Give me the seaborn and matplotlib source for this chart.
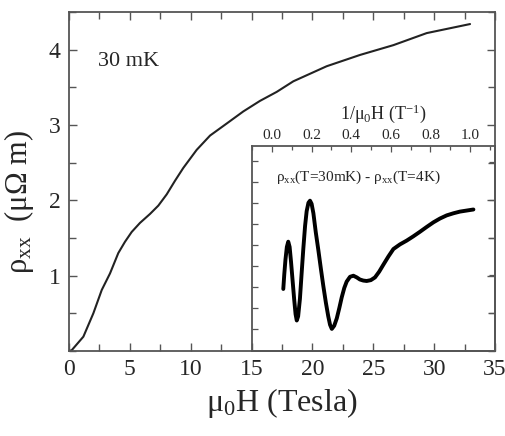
import matplotlib
matplotlib.use("Agg")
import matplotlib.pyplot as plt
from matplotlib.ticker import MultipleLocator, FixedLocator, NullFormatter
import seaborn as sns
import pandas as pd

# Longitudinal resistivity at 30 mK versus field
field_T = [0, 0.22, 1.18, 2.0, 2.69, 3.37, 4.05, 4.6, 5.15, 5.83, 6.66, 7.34,
           8.03, 8.71, 9.39, 10.49, 11.59, 12.96, 14.32, 15.69, 17.07, 18.43,
           21.17, 23.91, 26.65, 29.39, 32.95]
rho_xx = [0, 0.01, 0.19, 0.50, 0.81, 1.03, 1.30, 1.45, 1.58, 1.70, 1.82, 1.93,
          2.08, 2.26, 2.43, 2.67, 2.86, 3.02, 3.18, 3.32, 3.44, 3.58,
          3.78, 3.93, 4.06, 4.22, 4.34]

# Difference rho_xx(30 mK) - rho_xx(4 K) versus inverse field (arb. units)
inv_field = [0.057, 0.062, 0.068, 0.075, 0.082, 0.089, 0.096, 0.104, 0.112,
             0.119, 0.125, 0.132, 0.141, 0.150, 0.158, 0.167, 0.175, 0.184,
             0.192, 0.200, 0.209, 0.221, 0.234, 0.247, 0.259, 0.272, 0.284,
             0.293, 0.302, 0.314, 0.327, 0.340, 0.352, 0.365, 0.377, 0.394,
             0.411, 0.428, 0.444, 0.461, 0.478, 0.499, 0.520, 0.541, 0.562,
             0.588, 0.613, 0.646, 0.680, 0.713, 0.747, 0.781, 0.815, 0.848,
             0.882, 0.916, 0.949, 0.983, 1.017]
delta_rho = [2.90, 3.60, 4.30, 4.90, 5.15, 4.90, 4.20, 3.30, 2.40,
             1.70, 1.40, 1.60, 2.43, 3.70, 4.80, 5.90, 6.60, 7.00,
             7.10, 6.95, 6.50, 5.60, 4.75, 3.85, 3.05, 2.25, 1.60,
             1.20, 1.00, 1.15, 1.50, 2.00, 2.50, 2.95, 3.25, 3.48,
             3.53, 3.45, 3.35, 3.30, 3.28, 3.32, 3.45, 3.72, 4.05,
             4.45, 4.80, 5.02, 5.20, 5.40, 5.62, 5.85, 6.07, 6.25,
             6.40, 6.50, 6.58, 6.63, 6.68]

main_xticks = [0, 5, 10, 15, 20, 25, 30, 35]
main_yticks = [1, 2, 3, 4]
inset_xticks = [0.0, 0.2, 0.4, 0.6, 0.8, 1.0]

sns.set_theme(style="ticks")
plt.rcParams["font.family"] = ["Liberation Serif", "DejaVu Serif"]
plt.rcParams["mathtext.fontset"] = "custom"
plt.rcParams["mathtext.rm"] = "Liberation Serif"
plt.rcParams["mathtext.it"] = "Liberation Serif:italic"

edge = "#555555"

fig = plt.figure(figsize=(5.06, 4.36), dpi=100)
ax = fig.add_axes([69 / 506, 85 / 436, 426 / 506, 339 / 436])

main_df = pd.DataFrame({"H": field_T, "rho": rho_xx})
sns.lineplot(data=main_df, x="H", y="rho", ax=ax, color="#222222",
             linewidth=1.5, sort=False, estimator=None)

ax.set_xlim(0, 35)
ax.set_ylim(0, 4.5)
ax.set_xticks(main_xticks)
ax.set_yticks(main_yticks)
ax.xaxis.set_minor_locator(MultipleLocator(2.5))
ax.yaxis.set_minor_locator(MultipleLocator(0.5))
ax.tick_params(which="both", direction="in", top=True, right=True,
               color=edge, width=1.0, labelsize=17, pad=6)
ax.tick_params(which="major", length=6)
ax.tick_params(which="minor", length=5)
for s in ax.spines.values():
    s.set_color(edge)
    s.set_linewidth(1.3)
ax.set_xlabel(r"μ$_{\mathrm{0}}$H (Tesla)", fontsize=23, labelpad=4)
ax.set_ylabel(r"ρ$_{\mathrm{xx}}$  (μΩ m)", fontsize=22, labelpad=4)
ax.yaxis.set_label_coords(-0.078, 0.44)
ax.text(2.4, 3.84, "30 mK", fontsize=16, va="center", ha="left")

# Inset: oscillatory part against inverse field
ins = fig.add_axes([252 / 506, 85 / 436, 243 / 506, 205 / 436])
ins.set_facecolor("none")
ins_df = pd.DataFrame({"u": inv_field, "d": delta_rho})
sns.lineplot(data=ins_df, x="u", y="d", ax=ins, color="black",
             linewidth=2.8, sort=False, estimator=None)
ins.set_xlim(-0.101, 1.126)
ins.set_ylim(-0.05, 9.7)
ins.xaxis.set_ticks_position("top")
ins.xaxis.set_label_position("top")
ins.set_xticks(inset_xticks)
ins.set_xticklabels([f"{t:.1f}" for t in inset_xticks])
ins.xaxis.set_minor_locator(MultipleLocator(0.1))
ins.yaxis.set_major_locator(FixedLocator(range(1, 10)))
ins.yaxis.set_major_formatter(NullFormatter())
ins.tick_params(which="both", direction="in", color=edge, width=0.9,
                labelsize=11, pad=3, bottom=False, right=False)
ins.tick_params(which="major", length=4)
ins.tick_params(which="minor", length=3)
for s in ins.spines.values():
    s.set_color(edge)
    s.set_linewidth(1.3)
ins.set_xlabel(r"1/μ$_{\mathrm{0}}$H (T$^{-1}$)", fontsize=13, labelpad=3)
ins.xaxis.set_label_coords(0.54, 1.13)
ins.set_ylabel("")
sec = ins.secondary_yaxis("right", functions=(lambda y: (y + 0.03) / 1.79,
                                              lambda y: y * 1.79 - 0.03))
sec.set_yticks([1, 2, 3, 4, 5])
sec.yaxis.set_major_formatter(NullFormatter())
sec.tick_params(direction="in", length=4, color=edge, width=0.9)
sec.spines["right"].set_visible(False)
ins.text(0.10, 0.845, r"ρ$_{\mathrm{xx}}$(T=30mK) - ρ$_{\mathrm{xx}}$(T=4K)",
         transform=ins.transAxes, fontsize=11, va="center", ha="left")

fig.savefig("out.png", dpi=100)
